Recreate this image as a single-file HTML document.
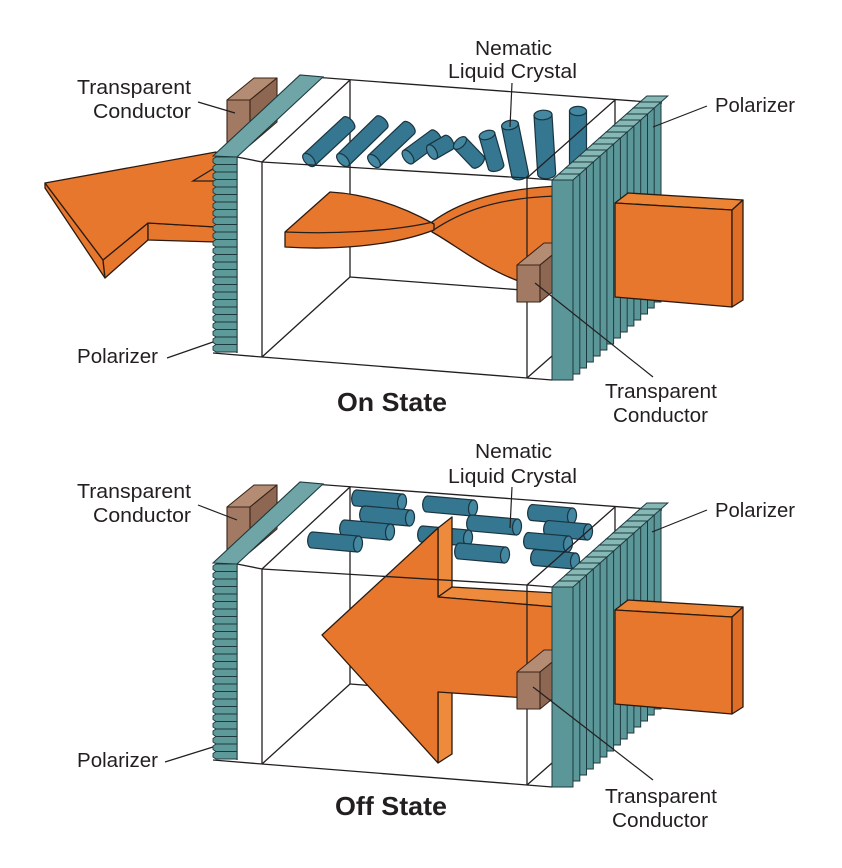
<!DOCTYPE html>
<html><head><meta charset="utf-8">
<style>
html,body{margin:0;padding:0;background:#fff;}
svg{display:block;}
text{font-family:"Liberation Sans",Arial,sans-serif;fill:#231f20;}
.lbl{font-size:20px;}
.ttl{font-size:26px;font-weight:bold;}
.ln{stroke:#231f20;stroke-width:1.3;fill:none;}
.or{fill:#E8772E;stroke:#2a1a10;stroke-width:1.3;stroke-linejoin:round;}
.ors{fill:#EE8A3C;stroke:#2a1a10;stroke-width:1.3;stroke-linejoin:round;}
.cy{fill:#357790;stroke:#1a3440;stroke-width:1.2;}
.cc{fill:#4387A0;stroke:#1a3440;stroke-width:1.2;}
.br{stroke:#3a2418;stroke-width:1.1;stroke-linejoin:round;}
</style></head><body>
<svg width="842" height="868" viewBox="0 0 842 868">
<defs>
 <g id="fin"><rect x="0" y="0" width="21" height="200" fill="#5B9698" stroke="#1d3a3e" stroke-width="1"/><polygon points="0,0 21,0 27.8,-6 6.8,-6" fill="#86B8B6" stroke="#1d3a3e" stroke-width="1"/></g>
 <polygon id="slat" points="0,2 3,0 24,0 24,7.5 3,7.5 0,5.5" fill="#5F9A9B" stroke="#1d3a3e" stroke-width="0.9"/>
 <g id="back">
  <g class="ln">
   <line x1="300" y1="76" x2="662" y2="103"/>
   <line x1="350" y1="80" x2="350" y2="277"/>
   <line x1="350" y1="277" x2="615" y2="297"/>
   <line x1="615" y1="100" x2="615" y2="297"/>
  </g>
  <polygon class="br" points="227,100 250,100 250,145 227,145" fill="#A27A63"/>
  <polygon class="br" points="227,100 250,100 277,78 254,78" fill="#B48C74"/>
  <polygon class="br" points="250,100 277,78 277,122 250,145" fill="#8E6753"/>
 </g>
 <g id="front">
  <g class="ln">
   <polyline points="237,157 262,162 527,178 552,180"/>
   <polyline points="213,353 262,357 527,378 552,380"/>
   <line x1="262" y1="162" x2="262" y2="357"/>
   <line x1="527" y1="178" x2="527" y2="378"/>
   <line x1="262" y1="162" x2="350" y2="80"/>
   <line x1="262" y1="357" x2="350" y2="277"/>
   <line x1="527" y1="178" x2="615" y2="100"/>
   <line x1="527" y1="378" x2="552" y2="356"/>
   <line x1="237" y1="157" x2="237" y2="353"/>
  </g>
  <polygon points="213,156 237,157 323,77 300,75" fill="#6FA5A6" stroke="#1d3a3e" stroke-width="1.1"/>
  <use href="#slat" x="213" y="157"/><use href="#slat" x="213" y="164.5"/><use href="#slat" x="213" y="172"/><use href="#slat" x="213" y="179.5"/>
  <use href="#slat" x="213" y="187"/><use href="#slat" x="213" y="194.5"/><use href="#slat" x="213" y="202"/><use href="#slat" x="213" y="209.5"/>
  <use href="#slat" x="213" y="217"/><use href="#slat" x="213" y="224.5"/><use href="#slat" x="213" y="232"/><use href="#slat" x="213" y="239.5"/>
  <use href="#slat" x="213" y="247"/><use href="#slat" x="213" y="254.5"/><use href="#slat" x="213" y="262"/><use href="#slat" x="213" y="269.5"/>
  <use href="#slat" x="213" y="277"/><use href="#slat" x="213" y="284.5"/><use href="#slat" x="213" y="292"/><use href="#slat" x="213" y="299.5"/>
  <use href="#slat" x="213" y="307"/><use href="#slat" x="213" y="314.5"/><use href="#slat" x="213" y="322"/><use href="#slat" x="213" y="329.5"/>
  <use href="#slat" x="213" y="337"/><use href="#slat" x="213" y="344.5"/>
  <polygon class="br" points="517,265 540,265 540,302 517,302" fill="#A27A63"/>
  <polygon class="br" points="517,265 540,265 567,243 544,243" fill="#B48C74"/>
  <polygon class="br" points="540,265 567,243 567,280 540,302" fill="#8E6753"/>
  <use href="#fin" x="640" y="102"/><use href="#fin" x="633.2" y="108"/><use href="#fin" x="626.5" y="114"/>
  <use href="#fin" x="619.7" y="120"/><use href="#fin" x="612.9" y="126"/><use href="#fin" x="606.2" y="132"/>
  <use href="#fin" x="599.4" y="138"/><use href="#fin" x="592.6" y="144"/><use href="#fin" x="585.9" y="150"/>
  <use href="#fin" x="579.1" y="156"/><use href="#fin" x="572.3" y="162"/><use href="#fin" x="565.5" y="168"/>
  <use href="#fin" x="558.8" y="174"/><use href="#fin" x="552" y="180"/>
  <polygon class="or" points="615,203 628,193 743,200 732,210" style="fill:#EC8436"/>
  <polygon class="or" points="615,203 732,210 732,307 615,297"/>
  <polygon class="or" points="732,210 743,200 743,300 732,307" style="fill:#DE6E26"/>
 </g>
</defs>

<!-- ===== TOP PANEL (On State) ===== -->
<use href="#back"/>
<!-- left outgoing arrow -->
<polygon class="or" points="45,183 103,260 105,278 45,188"/>
<polygon class="or" points="103,260 148,223 148,240 105,278"/>
<polygon class="or" points="148,223 216,227 216,242 148,240"/>
<polygon class="or" points="45,183 216,152 216,227 148,223 103,260"/>
<polyline class="ln" points="216,167 193,181 216,181"/>
<!-- twisted ribbon -->
<path class="or" d="M432,222 C455,205 490,190 556,186 L556,292 C495,280 460,247 432,232 Z"/>
<path class="ln" d="M432,231 C460,212 495,198 556,196"/>
<path class="or" d="M285,232 L330,192 C365,194 400,205 434,224 L434,230 C390,247 330,250 285,247 Z"/>
<path class="ln" d="M285,232 C330,234 390,232 433,222"/>
<!-- crystals (twisted) -->
<g transform="translate(309,160) rotate(-42.9)"><path class="cy" d="M0,-8H54A4.4,8 0 0 1 54,8H0Z"/><ellipse class="cc" rx="4.4" ry="8"/></g>
<g transform="translate(343,160) rotate(-44.3)"><path class="cy" d="M0,-8H54A4.4,8 0 0 1 54,8H0Z"/><ellipse class="cc" rx="4.4" ry="8"/></g>
<g transform="translate(374,161) rotate(-43.5)"><path class="cy" d="M0,-8H48A4.4,8 0 0 1 48,8H0Z"/><ellipse class="cc" rx="4.4" ry="8"/></g>
<g transform="translate(408,157) rotate(-36.3)"><path class="cy" d="M0,-8H34A4.4,8 0 0 1 34,8H0Z"/><ellipse class="cc" rx="4.4" ry="8"/></g>
<g transform="translate(432,152) rotate(-30)"><path class="cy" d="M0,-8H19A4.4,8 0 0 1 19,8H0Z"/><ellipse class="cc" rx="4.4" ry="8"/></g>
<g transform="translate(460,143) rotate(46.4)"><path class="cy" d="M0,-8H26A4.4,8 0 0 1 26,8H0Z"/><ellipse class="cc" rx="4.4" ry="8"/></g>
<g transform="translate(487,135) rotate(74)"><path class="cy" d="M0,-8H33A4.4,8 0 0 1 33,8H0Z"/><ellipse class="cc" rx="4.4" ry="8"/></g>
<g transform="translate(510,125) rotate(78.5)"><path class="cy" d="M0,-8.5H51A4.6,8.5 0 0 1 51,8.5H0Z"/><ellipse class="cc" rx="4.6" ry="8.5"/></g>
<g transform="translate(543,115) rotate(86.4)"><path class="cy" d="M0,-9H59A4.8,9 0 0 1 59,9H0Z"/><ellipse class="cc" rx="4.8" ry="9"/></g>
<g transform="translate(578,111) rotate(90)"><path class="cy" d="M0,-8.5H62A4.6,8.5 0 0 1 62,8.5H0Z"/><ellipse class="cc" rx="4.6" ry="8.5"/></g>
<use href="#front"/>
<!-- pointers -->
<g class="ln" style="stroke-width:1.2">
 <line x1="198" y1="102" x2="235" y2="113"/>
 <line x1="167" y1="358" x2="213" y2="342"/>
 <line x1="512" y1="83" x2="510" y2="127"/>
 <line x1="707" y1="106" x2="653" y2="127"/>
 <line x1="535" y1="283" x2="653" y2="377"/>
</g>
<text class="lbl" x="77" y="94" textLength="114" lengthAdjust="spacingAndGlyphs">Transparent</text>
<text class="lbl" x="93" y="118" textLength="98" lengthAdjust="spacingAndGlyphs">Conductor</text>
<text class="lbl" x="77" y="363" textLength="81" lengthAdjust="spacingAndGlyphs">Polarizer</text>
<text class="lbl" x="475" y="55" textLength="77" lengthAdjust="spacingAndGlyphs">Nematic</text>
<text class="lbl" x="448" y="78" textLength="129" lengthAdjust="spacingAndGlyphs">Liquid Crystal</text>
<text class="lbl" x="715" y="112" textLength="80" lengthAdjust="spacingAndGlyphs">Polarizer</text>
<text class="lbl" x="605" y="398" textLength="112" lengthAdjust="spacingAndGlyphs">Transparent</text>
<text class="lbl" x="613" y="422" textLength="95" lengthAdjust="spacingAndGlyphs">Conductor</text>
<text class="ttl" x="337" y="411" textLength="110" lengthAdjust="spacingAndGlyphs">On State</text>

<!-- ===== BOTTOM PANEL (Off State) ===== -->
<use href="#back" x="0" y="407"/>
<g transform="translate(402,502) rotate(185)"><path class="cy" d="M0,-8H46A4.5,8 0 0 1 46,8H0Z"/><ellipse class="cc" rx="4.5" ry="8"/></g>
<g transform="translate(410,518) rotate(185)"><path class="cy" d="M0,-8H46A4.5,8 0 0 1 46,8H0Z"/><ellipse class="cc" rx="4.5" ry="8"/></g>
<g transform="translate(390,532) rotate(185)"><path class="cy" d="M0,-8H46A4.5,8 0 0 1 46,8H0Z"/><ellipse class="cc" rx="4.5" ry="8"/></g>
<g transform="translate(358,544) rotate(185)"><path class="cy" d="M0,-8H46A4.5,8 0 0 1 46,8H0Z"/><ellipse class="cc" rx="4.5" ry="8"/></g>
<g transform="translate(473,508) rotate(185)"><path class="cy" d="M0,-8H46A4.5,8 0 0 1 46,8H0Z"/><ellipse class="cc" rx="4.5" ry="8"/></g>
<g transform="translate(517,527) rotate(185)"><path class="cy" d="M0,-8H46A4.5,8 0 0 1 46,8H0Z"/><ellipse class="cc" rx="4.5" ry="8"/></g>
<g transform="translate(468,538) rotate(185)"><path class="cy" d="M0,-8H46A4.5,8 0 0 1 46,8H0Z"/><ellipse class="cc" rx="4.5" ry="8"/></g>
<g transform="translate(505,555) rotate(185)"><path class="cy" d="M0,-8H46A4.5,8 0 0 1 46,8H0Z"/><ellipse class="cc" rx="4.5" ry="8"/></g>
<g transform="translate(572,516) rotate(185)"><path class="cy" d="M0,-8H40A4.5,8 0 0 1 40,8H0Z"/><ellipse class="cc" rx="4.5" ry="8"/></g>
<g transform="translate(588,532) rotate(185)"><path class="cy" d="M0,-8H40A4.5,8 0 0 1 40,8H0Z"/><ellipse class="cc" rx="4.5" ry="8"/></g>
<g transform="translate(568,544) rotate(185)"><path class="cy" d="M0,-8H40A4.5,8 0 0 1 40,8H0Z"/><ellipse class="cc" rx="4.5" ry="8"/></g>
<g transform="translate(575,561) rotate(185)"><path class="cy" d="M0,-8H40A4.5,8 0 0 1 40,8H0Z"/><ellipse class="cc" rx="4.5" ry="8"/></g>
<!-- big arrow -->
<polygon class="ors" points="438,528 452,517 452,587 438,597"/>
<polygon class="ors" points="438,597 452,587 556,593 556,607"/>
<polygon class="ors" points="438,692 452,690 452,754 438,763"/>
<polygon class="or" points="322,635 438,528 438,597 556,607 556,700 438,692 438,763"/>
<use href="#front" x="0" y="407"/>
<g class="ln" style="stroke-width:1.2">
 <line x1="198" y1="505" x2="237" y2="520"/>
 <line x1="165" y1="762" x2="213" y2="747"/>
 <line x1="512" y1="487" x2="510" y2="528"/>
 <line x1="707" y1="510" x2="652" y2="532"/>
 <line x1="533" y1="687" x2="653" y2="780"/>
</g>
<text class="lbl" x="77" y="498" textLength="114" lengthAdjust="spacingAndGlyphs">Transparent</text>
<text class="lbl" x="93" y="522" textLength="98" lengthAdjust="spacingAndGlyphs">Conductor</text>
<text class="lbl" x="77" y="767" textLength="81" lengthAdjust="spacingAndGlyphs">Polarizer</text>
<text class="lbl" x="475" y="458" textLength="77" lengthAdjust="spacingAndGlyphs">Nematic</text>
<text class="lbl" x="448" y="483" textLength="129" lengthAdjust="spacingAndGlyphs">Liquid Crystal</text>
<text class="lbl" x="715" y="517" textLength="80" lengthAdjust="spacingAndGlyphs">Polarizer</text>
<text class="lbl" x="605" y="803" textLength="112" lengthAdjust="spacingAndGlyphs">Transparent</text>
<text class="lbl" x="612" y="827" textLength="96" lengthAdjust="spacingAndGlyphs">Conductor</text>
<text class="ttl" x="335" y="815" textLength="112" lengthAdjust="spacingAndGlyphs">Off State</text>
</svg>
</body></html>
